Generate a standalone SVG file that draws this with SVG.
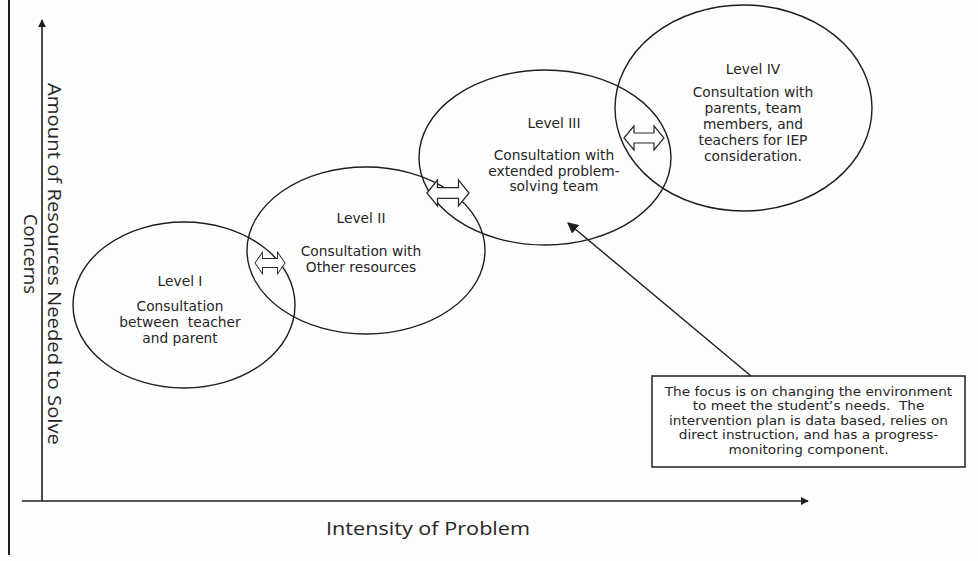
<svg xmlns="http://www.w3.org/2000/svg" xmlns:xlink="http://www.w3.org/1999/xlink" width="978" height="561" viewBox="0 0 978 561">
<style>
  .ell { fill: none; stroke: #1e1e1e; stroke-width: 1.4; }
  .lbl { font-family: "DejaVu Sans", Verdana, sans-serif; font-size: 13.8px; fill: #262626; text-anchor: middle; }
  .note { font-family: "DejaVu Sans", Verdana, sans-serif; font-size: 12.4px; fill: #262626; text-anchor: middle; }
  .ax { stroke: #1e1e1e; stroke-width: 1.6; fill: none; }
  .axl { font-family: "Open Sans", "DejaVu Sans", sans-serif; fill: #262626; text-anchor: middle; }
  .dbl { fill: #ffffff; stroke: #2a2a2a; stroke-width: 1.2; }
  .box { fill: #ffffff; stroke: #1e1e1e; stroke-width: 1.5; }
  .ptr { stroke: #1e1e1e; stroke-width: 1.4; fill: none; }
</style>
<defs>
  <marker id="ah" viewBox="0 0 10 10" refX="9" refY="5" markerWidth="8" markerHeight="8" markerUnits="userSpaceOnUse" orient="auto">
    <path d="M0,0 L10,5 L0,10 Z" fill="#1e1e1e"/>
  </marker>
  <marker id="ahp" viewBox="0 0 10 10" refX="9" refY="5" markerWidth="11" markerHeight="11" markerUnits="userSpaceOnUse" orient="auto">
    <path d="M0,0 L10,5 L0,10 Z" fill="#1e1e1e"/>
  </marker>
  <path id="dblarrow" d="M-20,0 L-10,-12 L-10,-5 L10,-5 L10,-12 L20,0 L10,12 L10,5 L-10,5 L-10,12 Z"/>
</defs>
<rect width="978" height="561" fill="#fdfdfd"/>
<line x1="9" y1="0" x2="9" y2="555" stroke="#1e1e1e" stroke-width="2"/>

<g id="axes">
  <line class="ax" x1="42" y1="501" x2="42" y2="20" marker-end="url(#ah)"/>
  <line class="ax" x1="22" y1="501" x2="808" y2="501" marker-end="url(#ah)"/>
  <text class="axl" font-size="19" transform="translate(48,264) rotate(90)" textLength="362" lengthAdjust="spacingAndGlyphs">Amount of Resources Needed to Solve</text>
  <text class="axl" font-size="19" transform="translate(24,254) rotate(90)" textLength="80" lengthAdjust="spacingAndGlyphs">Concerns</text>
  <text class="axl" font-size="19" x="428" y="535" textLength="204" lengthAdjust="spacingAndGlyphs">Intensity of Problem</text>
</g>

<g id="level1">
  <ellipse class="ell" cx="184" cy="305" rx="111" ry="83"/>
  <text class="lbl" x="180" y="286">Level I</text>
  <text class="lbl" x="180" y="311">Consultation</text>
  <text class="lbl" x="180" y="327" xml:space="preserve">between  teacher</text>
  <text class="lbl" x="180" y="343">and parent</text>
</g>

<g id="level2">
  <ellipse class="ell" cx="366" cy="250.5" rx="119" ry="83.5"/>
  <text class="lbl" x="361" y="223">Level II</text>
  <text class="lbl" x="361" y="256">Consultation with</text>
  <text class="lbl" x="361" y="272">Other resources</text>
</g>

<g id="level3">
  <ellipse class="ell" cx="545" cy="157.5" rx="126" ry="87.5"/>
  <text class="lbl" x="554" y="128">Level III</text>
  <text class="lbl" x="554" y="160">Consultation with</text>
  <text class="lbl" x="554" y="175.5">extended problem-</text>
  <text class="lbl" x="554" y="191">solving team</text>
</g>

<g id="level4">
  <ellipse class="ell" cx="743.5" cy="108" rx="128.5" ry="103"/>
  <text class="lbl" x="753" y="74">Level IV</text>
  <text class="lbl" x="753" y="97">Consultation with</text>
  <text class="lbl" x="753" y="113">parents, team</text>
  <text class="lbl" x="753" y="129">members, and</text>
  <text class="lbl" x="753" y="145">teachers for IEP</text>
  <text class="lbl" x="753" y="161">consideration.</text>
</g>

<g id="note">
  <rect class="box" x="652" y="376" width="313" height="91"/>
  <g transform="translate(808.5,0) scale(1.1,1)">
    <text class="note" x="0" y="396">The focus is on changing the environment</text>
    <text class="note" x="0" y="410.5" xml:space="preserve">to meet the student’s needs.  The</text>
    <text class="note" x="0" y="425">intervention plan is data based, relies on</text>
    <text class="note" x="0" y="439.5">direct instruction, and has a progress-</text>
    <text class="note" x="0" y="454">monitoring component.</text>
  </g>
</g>

<g id="connectors">
  <use xlink:href="#dblarrow" class="dbl" transform="translate(270,263) scale(0.75,0.9)"/>
  <use xlink:href="#dblarrow" class="dbl" transform="translate(448,193) scale(1.05,1.08)"/>
  <use xlink:href="#dblarrow" class="dbl" transform="translate(644,138)"/>
  <line class="ptr" x1="751" y1="376" x2="568" y2="223" marker-end="url(#ahp)"/>
</g>
</svg>
